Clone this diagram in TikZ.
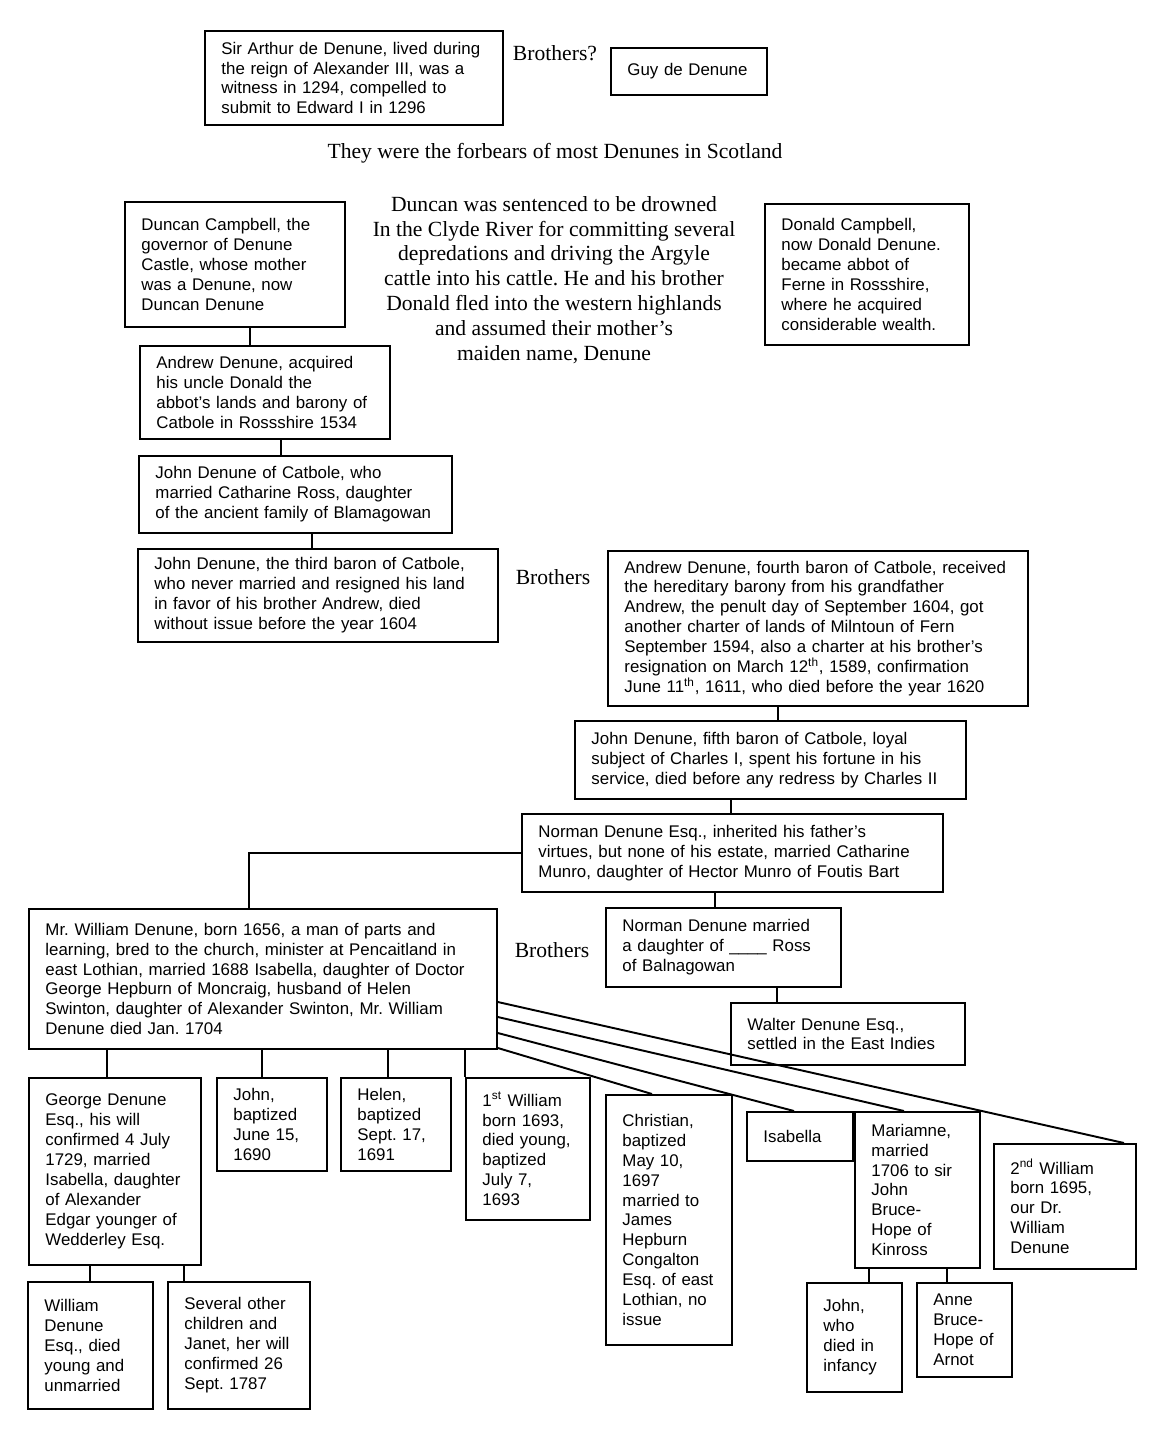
\documentclass[tikz,border=0pt]{standalone}
\usepackage{fontspec}
\setmainfont{Liberation Serif}
\newfontfamily\arialfont{Liberation Sans}
\usepackage{tikz}
\frenchspacing

\begin{document}
\begin{tikzpicture}[
  x=0.02cm, y=-0.02cm,
  box/.style={draw, line width=1.1pt, anchor=north west, align=left,
    inner xsep=0.33cm, inner ysep=0pt, font=\arialfont\fontsize{9.6}{11.34}\selectfont},
  note/.style={align=center, inner sep=0pt, font=\fontsize{12.3}{14.17}\selectfont},
  link/.style={line width=1.1pt}
]
\useasboundingbox (0,0) rectangle (1166,1434);

% earliest generation
\node[box, text width=5.30cm, minimum height=1.88cm] (arthur) at (204,30)
  {Sir Arthur de Denune, lived during\\ the reign of Alexander III, was a\\
   witness in 1294, compelled to\\ submit to Edward I in 1296};
\node[note] (brothersA) at (555,53) {Brothers?};
\node[box, text width=2.46cm, minimum height=0.94cm] (guy) at (610,47) {Guy de Denune};
\node[note] (forbears) at (555,153) {They were the forbears of most Denunes in Scotland};

% the Campbell brothers
\node[box, text width=3.74cm, minimum height=2.50cm] (duncan) at (124,201)
  {Duncan Campbell, the\\ governor of Denune\\ Castle, whose mother\\ was a Denune, now\\ Duncan Denune};
\node[note] (story) at (554,280)
  {Duncan was sentenced to be drowned\\ In the Clyde River for committing several\\
   depredations and driving the Argyle\\ cattle into his cattle. He and his brother\\
   Donald fled into the western highlands\\ and assumed their mother’s\\ maiden name, Denune};
\node[box, text width=3.42cm, minimum height=2.82cm] (donald) at (764,203)
  {Donald Campbell,\\ now Donald Denune.\\ became abbot of\\ Ferne in Rossshire,\\
   where he acquired\\ considerable wealth.};

% barons of Catbole
\node[box, text width=4.34cm, minimum height=1.86cm] (andrewA) at (139,345)
  {Andrew Denune, acquired\\ his uncle Donald the\\ abbot’s lands and barony of\\ Catbole in Rossshire 1534};
\node[box, text width=5.60cm, minimum height=1.54cm] (johnA) at (138,455)
  {John Denune of Catbole, who\\ married Catharine Ross, daughter\\ of the ancient family of Blamagowan};
\node[box, text width=6.54cm, minimum height=1.86cm] (johnB) at (137,548)
  {John Denune, the third baron of Catbole,\\ who never married and resigned his land\\
   in favor of his brother Andrew, died\\ without issue before the year 1604};
\node[note] (brothersB) at (553,577) {Brothers};
\node[box, text width=7.74cm, minimum height=3.10cm] (andrewB) at (607,550)
  {Andrew Denune, fourth baron of Catbole, received\\ the hereditary barony from his grandfather\\
   Andrew, the penult day of September 1604, got\\ another charter of lands of Milntoun of Fern\\
   September 1594, also a charter at his brother’s\\
   resignation on March 12\textsuperscript{th}, 1589, confirmation\\
   June 11\textsuperscript{th}, 1611, who died before the year 1620};
\node[box, text width=7.16cm, minimum height=1.56cm] (johnC) at (574,720)
  {John Denune, fifth baron of Catbole, loyal\\ subject of Charles I, spent his fortune in his\\
   service, died before any redress by Charles II};
\node[box, text width=7.76cm, minimum height=1.56cm] (normanA) at (521,813)
  {Norman Denune Esq., inherited his father’s\\ virtues, but none of his estate, married Catharine\\
   Munro, daughter of Hector Munro of Foutis Bart};
\node[box, text width=4.04cm, minimum height=1.58cm] (normanB) at (605,907)
  {Norman Denune married\\ a daughter of \_\_\_\_ Ross\\ of Balnagowan};
\node[box, text width=4.02cm, minimum height=1.24cm] (walter) at (730,1002)
  {Walter Denune Esq.,\\ settled in the East Indies};
\node[note] (brothersC) at (552,950) {Brothers};
\node[box, text width=8.70cm, minimum height=2.80cm] (william) at (28,908)
  {Mr. William Denune, born 1656, a man of parts and\\ learning, bred to the church, minister at Pencaitland in\\
   east Lothian, married 1688 Isabella, daughter of Doctor\\ George Hepburn of Moncraig, husband of Helen\\
   Swinton, daughter of Alexander Swinton, Mr. William\\ Denune died Jan. 1704};

% children of Mr. William Denune
\node[box, text width=2.78cm, minimum height=3.74cm] (george) at (28,1077)
  {George Denune\\ Esq., his will\\ confirmed 4 July\\ 1729, married\\ Isabella, daughter\\
   of Alexander\\ Edgar younger of\\ Wedderley Esq.};
\node[box, text width=1.54cm, minimum height=1.86cm] (johnD) at (216,1077)
  {John,\\ baptized\\ June 15,\\ 1690};
\node[box, text width=1.54cm, minimum height=1.86cm] (helen) at (340,1077)
  {Helen,\\ baptized\\ Sept. 17,\\ 1691};
\node[box, text width=1.82cm, minimum height=2.84cm] (williamA) at (465,1077)
  {1\textsuperscript{st} William\\ born 1693,\\ died young,\\ baptized\\ July 7,\\ 1693};
\node[box, text width=1.86cm, minimum height=5.00cm] (christian) at (605,1094)
  {Christian,\\ baptized\\ May 10,\\ 1697\\ married to\\ James\\ Hepburn\\ Congalton\\
   Esq. of east\\ Lothian, no\\ issue};
\node[box, text width=1.46cm, minimum height=0.98cm] (isabella) at (746,1111) {Isabella};
\node[box, text width=1.84cm, minimum height=3.12cm] (mariamne) at (854,1111)
  {Mariamne,\\ married\\ 1706 to sir\\ John\\ Bruce-\\ Hope of\\ Kinross};
\node[box, text width=2.18cm, minimum height=2.50cm] (williamB) at (993,1143)
  {2\textsuperscript{nd} William\\ born 1695,\\ our Dr.\\ William\\ Denune};

% grandchildren
\node[box, text width=1.84cm, minimum height=2.54cm] (williamC) at (27,1281)
  {William\\ Denune\\ Esq., died\\ young and\\ unmarried};
\node[box, text width=2.18cm, minimum height=2.54cm] (several) at (167,1281)
  {Several other\\ children and\\ Janet, her will\\ confirmed 26\\ Sept. 1787};
\node[box, text width=1.24cm, minimum height=2.18cm] (johnE) at (806,1282)
  {John,\\ who\\ died in\\ infancy};
\node[box, text width=1.24cm, minimum height=1.88cm] (anne) at (916,1282)
  {Anne\\ Bruce-\\ Hope of\\ Arnot};

% descent lines
\draw[link] (duncan.south -| 250,0) -- (andrewA.north -| 250,0);
\draw[link] (andrewA.south -| 281,0) -- (johnA.north -| 281,0);
\draw[link] (johnA.south -| 312,0) -- (johnB.north -| 312,0);
\draw[link] (andrewB.south -| 778,0) -- (johnC.north -| 778,0);
\draw[link] (johnC.south -| 731,0) -- (normanA.north -| 731,0);
\draw[link] (normanA.south -| 715,0) -- (normanB.north -| 715,0);
\draw[link] (normanB.south -| 777,0) -- (walter.north -| 777,0);
\draw[link] (normanA.west) -| (william.north -| 249,0);
\draw[link] (william.south -| 107,0) -- (george.north -| 107,0);
\draw[link] (william.south -| 262,0) -- (johnD.north -| 262,0);
\draw[link] (william.south -| 388,0) -- (helen.north -| 388,0);
\draw[link] (william.south -| 465,0) -- (williamA.north -| 465,0);
\draw[link] (william.east |- 0,1048) -- (christian.north -| 652,0);
\draw[link] (william.east |- 0,1033) -- (isabella.north -| 794,0);
\draw[link] (william.east |- 0,1017) -- (mariamne.north -| 904,0);
\draw[link] (william.east |- 0,1002) -- (williamB.north -| 1124,0);
\draw[link] (george.south -| 90,0) -- (williamC.north -| 90,0);
\draw[link] (george.south -| 184,0) -- (several.north -| 184,0);
\draw[link] (mariamne.south -| 869,0) -- (johnE.north -| 869,0);
\draw[link] (mariamne.south -| 947,0) -- (anne.north -| 947,0);
\end{tikzpicture}
\end{document}
